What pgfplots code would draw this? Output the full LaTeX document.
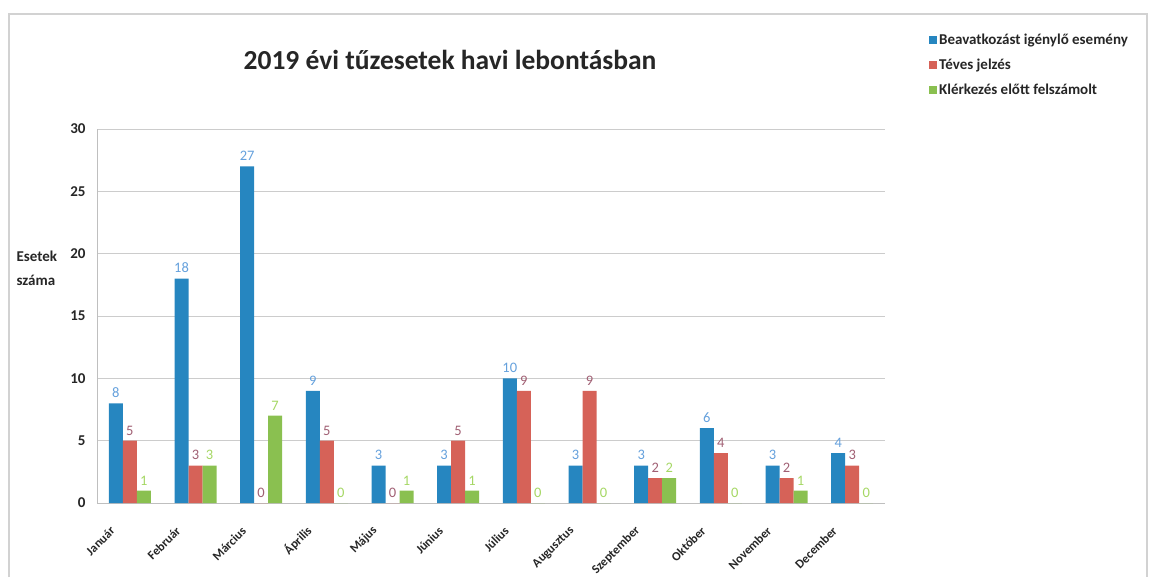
\documentclass[border=0pt]{standalone}
\usepackage{pgfplots}
\pgfplotsset{compat=1.18}
\usepackage{fontspec}
\setmainfont{Carlito}
\definecolor{cblue}{RGB}{38,134,192}
\definecolor{cred}{RGB}{214,98,88}
\definecolor{cgreen}{RGB}{138,192,80}
\definecolor{lblue}{RGB}{100,160,220}
\definecolor{lred}{RGB}{160,95,115}
\definecolor{lgreen}{RGB}{165,215,100}
\begin{document}
\begin{tikzpicture}[x=1pt,y=1pt]
\path (0,0) rectangle (1150,575);
\draw[gray!35, line width=1.2pt] (9,-2) -- (9,561) -- (1147,561) -- (1147,-2);
\node[font=\fontsize{27.5}{30}\bfseries\selectfont, text=black!85] at (450,515) {2019 évi tűzesetek havi lebontásban};
\node[font=\fontsize{15}{24}\bfseries\selectfont, align=left, anchor=west, text=black!85] at (13,307) {Esetek\\száma};
\begin{axis}[
  at={(97pt,72pt)}, anchor=south west,
  width=788pt, height=374pt, scale only axis,
  ybar=0pt, bar width=14pt,
  xmin=-0.5, xmax=11.5, ymin=0, ymax=30,
  ytick={0,5,...,30},
  xtick={0,...,11},
  xticklabels={Január,Február,Március,Április,Május,Június,Július,Augusztus,Szeptember,Október,November,December},
  /pgf/number format/assume math mode=true,
  tick label style={font=\fontsize{15}{17}\bfseries\selectfont, text=black!85},
  xticklabel style={rotate=45, anchor=east, font=\fontsize{12.5}{14}\bfseries\selectfont, xshift=-27pt, yshift=-6pt},
  yticklabel style={xshift=-8pt},
  major tick length=0pt,
  axis x line*=bottom, axis y line*=left,
  axis line style={gray!50, line width=0.8pt},
  x axis line style={-}, y axis line style={-},
  ymajorgrids, grid style={gray!40, line width=0.9pt},
  nodes near coords,
  nodes near coords style={font=\fontsize{14.5}{16}\selectfont, yshift=2pt},
  legend style={at={(1.052,1.265)}, anchor=north west, draw=none, fill=none,
    font=\fontsize{15}{16}\bfseries\selectfont, row sep=9pt, text=black!85},
  legend cell align=left,
  legend image code/.code={\fill[#1] (0pt,-4pt) rectangle (8pt,4pt);},
]
\addplot[fill=cblue, draw=none, nodes near coords style={text=lblue}] coordinates {(0,8) (1,18) (2,27) (3,9) (4,3) (5,3) (6,10) (7,3) (8,3) (9,6) (10,3) (11,4)};
\addplot[fill=cred, draw=none, nodes near coords style={text=lred}] coordinates {(0,5) (1,3) (2,0) (3,5) (4,0) (5,5) (6,9) (7,9) (8,2) (9,4) (10,2) (11,3)};
\addplot[fill=cgreen, draw=none, nodes near coords style={text=lgreen}] coordinates {(0,1) (1,3) (2,7) (3,0) (4,1) (5,1) (6,0) (7,0) (8,2) (9,0) (10,1) (11,0)};
\legend{Beavatkozást igénylő esemény, Téves jelzés, Klérkezés előtt felszámolt}
\end{axis}
\end{tikzpicture}
\end{document}
